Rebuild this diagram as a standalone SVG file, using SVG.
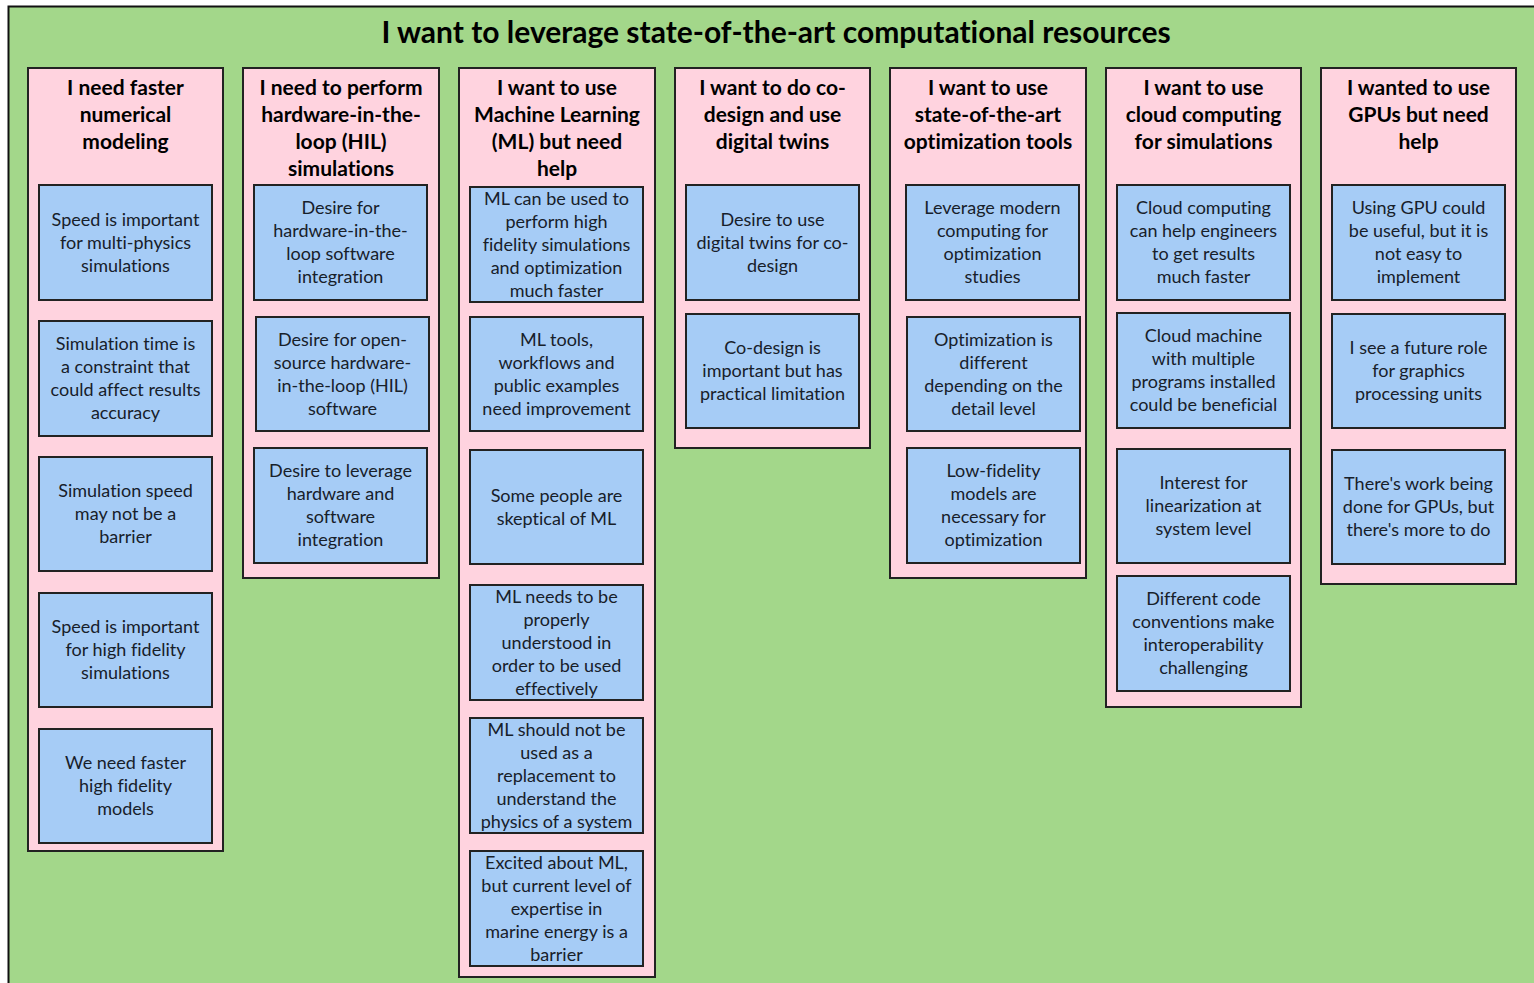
<svg xmlns="http://www.w3.org/2000/svg" width="1534" height="983" viewBox="0 0 1534 983">
<style>
.bg{fill:#A3D78A;stroke:#111;stroke-width:2}
.col{fill:#FFD3DF;stroke:#222;stroke-width:2}
.box{fill:#A6CCF6;stroke:#222;stroke-width:2}
text{font-variant-ligatures:none}
.title{font-family:Lato,"Liberation Sans",sans-serif;font-weight:bold;font-size:30px;fill:#000;text-anchor:middle}
.head{font-family:Lato,"Liberation Sans",sans-serif;font-weight:bold;font-size:21px;fill:#000;text-anchor:middle}
.txt{font-family:Lato,"Liberation Sans",sans-serif;font-size:18px;fill:#17202a;text-anchor:middle}
</style>
<rect x="0" y="0" width="1534" height="983" fill="#ffffff"/>
<rect class="bg" x="8.5" y="6.5" width="1540" height="990"/>
<text class="title" x="776" y="43">I want to leverage state-of-the-art computational resources</text>

<g id="col1">
<rect class="col" x="28" y="68" width="195" height="783"/>
<text class="head" x="125.5" y="95"><tspan x="125.5">I need faster</tspan><tspan x="125.5" dy="27">numerical</tspan><tspan x="125.5" dy="27">modeling</tspan></text>
<g id="c1b1"><rect class="box" x="39" y="185" width="173" height="115"/><text class="txt" y="225.5"><tspan x="125.5">Speed is important</tspan><tspan x="125.5" dy="23">for multi-physics</tspan><tspan x="125.5" dy="23">simulations</tspan></text></g>
<g id="c1b2"><rect class="box" x="39" y="321" width="173" height="115"/><text class="txt" y="350"><tspan x="125.5">Simulation time is</tspan><tspan x="125.5" dy="23">a constraint that</tspan><tspan x="125.5" dy="23">could affect results</tspan><tspan x="125.5" dy="23">accuracy</tspan></text></g>
<g id="c1b3"><rect class="box" x="39" y="457" width="173" height="114"/><text class="txt" y="497"><tspan x="125.5">Simulation speed</tspan><tspan x="125.5" dy="23">may not be a</tspan><tspan x="125.5" dy="23">barrier</tspan></text></g>
<g id="c1b4"><rect class="box" x="39" y="593" width="173" height="114"/><text class="txt" y="633"><tspan x="125.5">Speed is important</tspan><tspan x="125.5" dy="23">for high fidelity</tspan><tspan x="125.5" dy="23">simulations</tspan></text></g>
<g id="c1b5"><rect class="box" x="39" y="729" width="173" height="114"/><text class="txt" y="769"><tspan x="125.5">We need faster</tspan><tspan x="125.5" dy="23">high fidelity</tspan><tspan x="125.5" dy="23">models</tspan></text></g>
</g>

<g id="col2">
<rect class="col" x="243" y="68" width="196" height="510"/>
<text class="head" y="95"><tspan x="341">I need to perform</tspan><tspan x="341" dy="27">hardware-in-the-</tspan><tspan x="341" dy="27">loop (HIL)</tspan><tspan x="341" dy="27">simulations</tspan></text>
<g id="c2b1"><rect class="box" x="254" y="185" width="173" height="115"/><text class="txt" y="214"><tspan x="340.5">Desire for</tspan><tspan x="340.5" dy="23">hardware-in-the-</tspan><tspan x="340.5" dy="23">loop software</tspan><tspan x="340.5" dy="23">integration</tspan></text></g>
<g id="c2b2"><rect class="box" x="256" y="317" width="173" height="114"/><text class="txt" y="345.5"><tspan x="342.5">Desire for open-</tspan><tspan x="342.5" dy="23">source hardware-</tspan><tspan x="342.5" dy="23">in-the-loop (HIL)</tspan><tspan x="342.5" dy="23">software</tspan></text></g>
<g id="c2b3"><rect class="box" x="254" y="448" width="173" height="115"/><text class="txt" y="477"><tspan x="340.5">Desire to leverage</tspan><tspan x="340.5" dy="23">hardware and</tspan><tspan x="340.5" dy="23">software</tspan><tspan x="340.5" dy="23">integration</tspan></text></g>
</g>

<g id="col3">
<rect class="col" x="459" y="68" width="196" height="909"/>
<text class="head" y="95"><tspan x="557">I want to use</tspan><tspan x="557" dy="27">Machine Learning</tspan><tspan x="557" dy="27">(ML) but need</tspan><tspan x="557" dy="27">help</tspan></text>
<g id="c3b1"><rect class="box" x="470" y="187" width="173" height="115"/><text class="txt" y="204.5"><tspan x="556.5">ML can be used to</tspan><tspan x="556.5" dy="23">perform high</tspan><tspan x="556.5" dy="23">fidelity simulations</tspan><tspan x="556.5" dy="23">and optimization</tspan><tspan x="556.5" dy="23">much faster</tspan></text></g>
<g id="c3b2"><rect class="box" x="470" y="317" width="173" height="114"/><text class="txt" y="345.5"><tspan x="556.5">ML tools,</tspan><tspan x="556.5" dy="23">workflows and</tspan><tspan x="556.5" dy="23">public examples</tspan><tspan x="556.5" dy="23">need improvement</tspan></text></g>
<g id="c3b3"><rect class="box" x="470" y="450" width="173" height="114"/><text class="txt" y="501.5"><tspan x="556.5">Some people are</tspan><tspan x="556.5" dy="23">skeptical of ML</tspan></text></g>
<g id="c3b4"><rect class="box" x="470" y="585" width="173" height="115"/><text class="txt" y="602.5"><tspan x="556.5">ML needs to be</tspan><tspan x="556.5" dy="23">properly</tspan><tspan x="556.5" dy="23">understood in</tspan><tspan x="556.5" dy="23">order to be used</tspan><tspan x="556.5" dy="23">effectively</tspan></text></g>
<g id="c3b5"><rect class="box" x="470" y="718" width="173" height="115"/><text class="txt" y="735.5"><tspan x="556.5">ML should not be</tspan><tspan x="556.5" dy="23">used as a</tspan><tspan x="556.5" dy="23">replacement to</tspan><tspan x="556.5" dy="23">understand the</tspan><tspan x="556.5" dy="23">physics of a system</tspan></text></g>
<g id="c3b6"><rect class="box" x="470" y="851" width="173" height="115"/><text class="txt" y="868.5"><tspan x="556.5">Excited about ML,</tspan><tspan x="556.5" dy="23">but current level of</tspan><tspan x="556.5" dy="23">expertise in</tspan><tspan x="556.5" dy="23">marine energy is a</tspan><tspan x="556.5" dy="23">barrier</tspan></text></g>
</g>

<g id="col4">
<rect class="col" x="675" y="68" width="195" height="380"/>
<text class="head" y="95"><tspan x="772.5">I want to do co-</tspan><tspan x="772.5" dy="27">design and use</tspan><tspan x="772.5" dy="27">digital twins</tspan></text>
<g id="c4b1"><rect class="box" x="686" y="185" width="173" height="115"/><text class="txt" y="225.5"><tspan x="772.5">Desire to use</tspan><tspan x="772.5" dy="23">digital twins for co-</tspan><tspan x="772.5" dy="23">design</tspan></text></g>
<g id="c4b2"><rect class="box" x="686" y="314" width="173" height="114"/><text class="txt" y="354"><tspan x="772.5">Co-design is</tspan><tspan x="772.5" dy="23">important but has</tspan><tspan x="772.5" dy="23">practical limitation</tspan></text></g>
</g>

<g id="col5">
<rect class="col" x="890" y="68" width="196" height="510"/>
<text class="head" y="95"><tspan x="988">I want to use</tspan><tspan x="988" dy="27">state-of-the-art</tspan><tspan x="988" dy="27">optimization tools</tspan></text>
<g id="c5b1"><rect class="box" x="906" y="185" width="173" height="115"/><text class="txt" y="214"><tspan x="992.5">Leverage modern</tspan><tspan x="992.5" dy="23">computing for</tspan><tspan x="992.5" dy="23">optimization</tspan><tspan x="992.5" dy="23">studies</tspan></text></g>
<g id="c5b2"><rect class="box" x="907" y="317" width="173" height="114"/><text class="txt" y="345.5"><tspan x="993.5">Optimization is</tspan><tspan x="993.5" dy="23">different</tspan><tspan x="993.5" dy="23">depending on the</tspan><tspan x="993.5" dy="23">detail level</tspan></text></g>
<g id="c5b3"><rect class="box" x="907" y="448" width="173" height="115"/><text class="txt" y="477"><tspan x="993.5">Low-fidelity</tspan><tspan x="993.5" dy="23">models are</tspan><tspan x="993.5" dy="23">necessary for</tspan><tspan x="993.5" dy="23">optimization</tspan></text></g>
</g>

<g id="col6">
<rect class="col" x="1106" y="68" width="195" height="639"/>
<text class="head" y="95"><tspan x="1203.5">I want to use</tspan><tspan x="1203.5" dy="27">cloud computing</tspan><tspan x="1203.5" dy="27">for simulations</tspan></text>
<g id="c6b1"><rect class="box" x="1117" y="185" width="173" height="115"/><text class="txt" y="214"><tspan x="1203.5">Cloud computing</tspan><tspan x="1203.5" dy="23">can help engineers</tspan><tspan x="1203.5" dy="23">to get results</tspan><tspan x="1203.5" dy="23">much faster</tspan></text></g>
<g id="c6b2"><rect class="box" x="1117" y="313" width="173" height="115"/><text class="txt" y="342"><tspan x="1203.5">Cloud machine</tspan><tspan x="1203.5" dy="23">with multiple</tspan><tspan x="1203.5" dy="23">programs installed</tspan><tspan x="1203.5" dy="23">could be beneficial</tspan></text></g>
<g id="c6b3"><rect class="box" x="1117" y="449" width="173" height="114"/><text class="txt" y="489"><tspan x="1203.5">Interest for</tspan><tspan x="1203.5" dy="23">linearization at</tspan><tspan x="1203.5" dy="23">system level</tspan></text></g>
<g id="c6b4"><rect class="box" x="1117" y="576" width="173" height="115"/><text class="txt" y="605"><tspan x="1203.5">Different code</tspan><tspan x="1203.5" dy="23">conventions make</tspan><tspan x="1203.5" dy="23">interoperability</tspan><tspan x="1203.5" dy="23">challenging</tspan></text></g>
</g>

<g id="col7">
<rect class="col" x="1321" y="68" width="195" height="516"/>
<text class="head" y="95"><tspan x="1418.5">I wanted to use</tspan><tspan x="1418.5" dy="27">GPUs but need</tspan><tspan x="1418.5" dy="27">help</tspan></text>
<g id="c7b1"><rect class="box" x="1332" y="185" width="173" height="115"/><text class="txt" y="214"><tspan x="1418.5">Using GPU could</tspan><tspan x="1418.5" dy="23">be useful, but it is</tspan><tspan x="1418.5" dy="23">not easy to</tspan><tspan x="1418.5" dy="23">implement</tspan></text></g>
<g id="c7b2"><rect class="box" x="1332" y="314" width="173" height="114"/><text class="txt" y="354"><tspan x="1418.5">I see a future role</tspan><tspan x="1418.5" dy="23">for graphics</tspan><tspan x="1418.5" dy="23">processing units</tspan></text></g>
<g id="c7b3"><rect class="box" x="1332" y="450" width="173" height="114"/><text class="txt" y="490"><tspan x="1418.5">There's work being</tspan><tspan x="1418.5" dy="23">done for GPUs, but</tspan><tspan x="1418.5" dy="23">there's more to do</tspan></text></g>
</g>

<g id="connectors"/>
</svg>
